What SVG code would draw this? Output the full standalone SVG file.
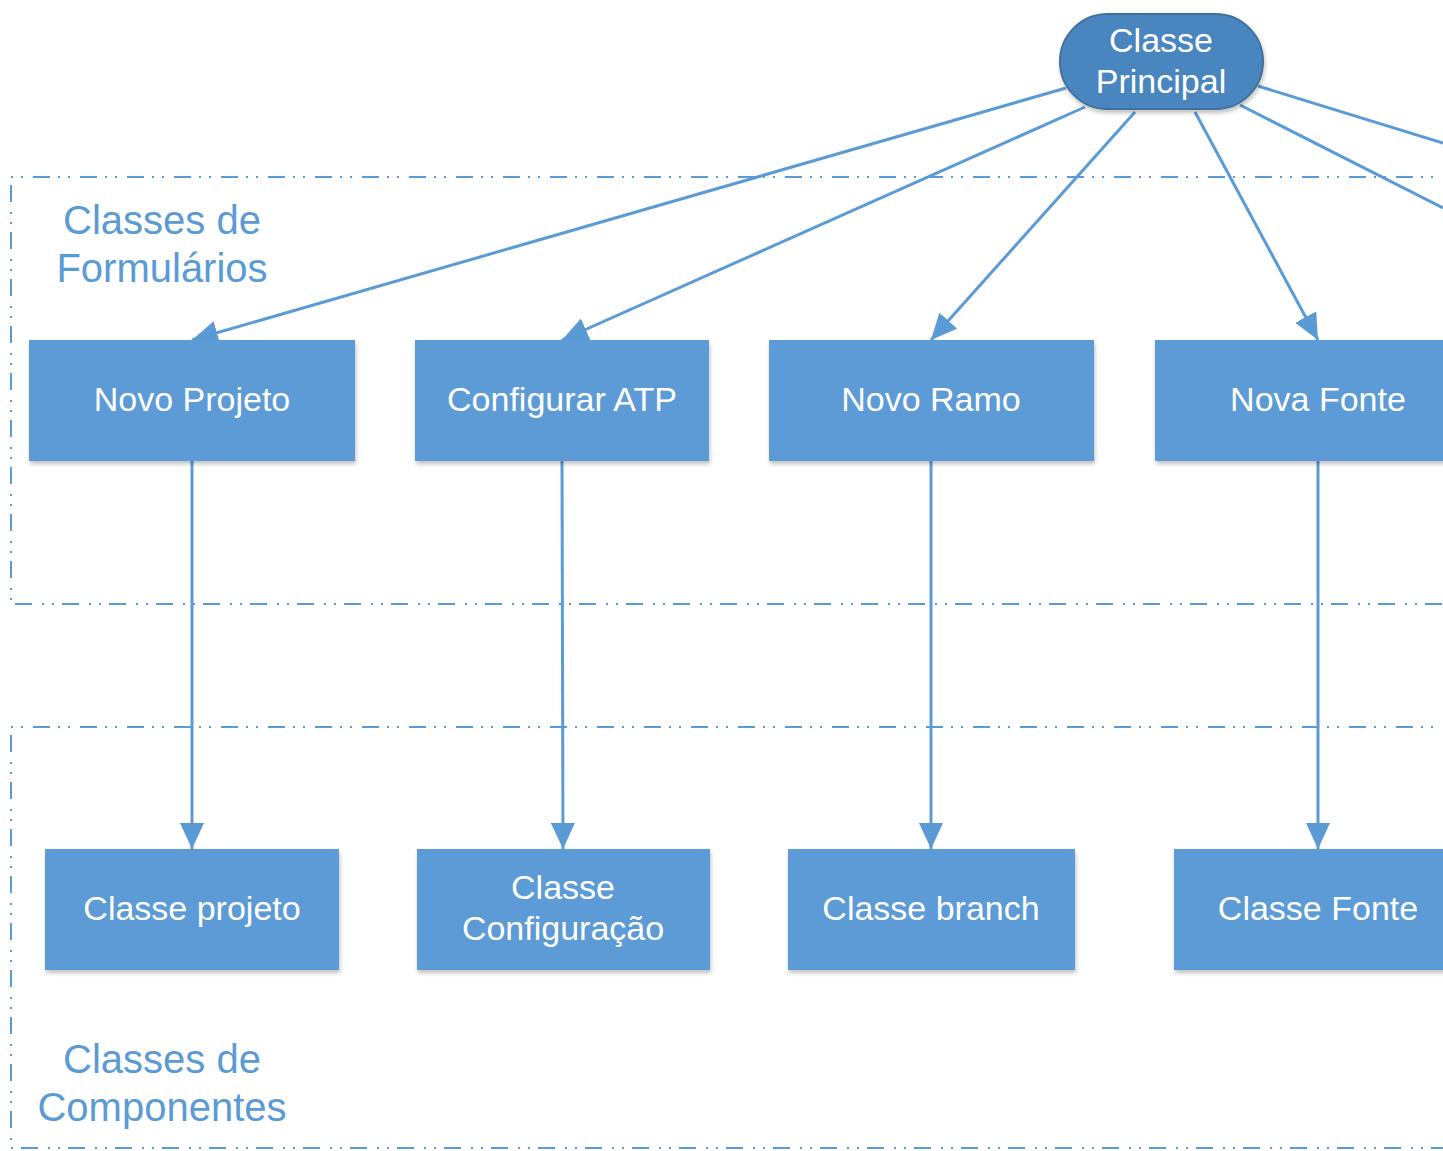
<svg xmlns="http://www.w3.org/2000/svg" width="1443" height="1151" viewBox="0 0 1443 1151">
<defs>
<style>
.box{fill:#5B9BD5;filter:url(#sh)}
.nt{font-family:"Liberation Sans",Arial,sans-serif;font-size:34px;fill:#FFFFFF;text-anchor:middle}
.lbl{font-family:"Liberation Sans",Arial,sans-serif;font-size:40px;fill:#5B9BD5;text-anchor:middle}
.grp{fill:none;stroke:#5B9BD5;stroke-width:2;stroke-dasharray:17 10 2 8 2 8}
.con{fill:none;stroke:#5B9BD5;stroke-width:3}
</style>
<filter id="sh" x="-5%" y="-5%" width="115%" height="120%">
<feGaussianBlur in="SourceAlpha" stdDeviation="2"/>
<feOffset dx="1" dy="3" result="b"/>
<feComponentTransfer><feFuncA type="linear" slope="0.25"/></feComponentTransfer>
<feMerge><feMergeNode/><feMergeNode in="SourceGraphic"/></feMerge>
</filter>
<marker id="ah" markerUnits="userSpaceOnUse" markerWidth="28" markerHeight="24" refX="26" refY="12" orient="auto">
<path d="M0,0 L26,12 L0,24 z" fill="#5B9BD5"/>
</marker>
</defs>
<rect width="1443" height="1151" fill="#FFFFFF"/>
<g id="groups">
<path class="grp" d="M1460,177 H11 V604 H1460"/>
<path class="grp" d="M1460,727 H11 V1148 H1460"/>
<text class="lbl" x="162" y="234">Classes de</text>
<text class="lbl" x="162" y="282">Formulários</text>
<text class="lbl" x="162" y="1073">Classes de</text>
<text class="lbl" x="162" y="1121">Componentes</text>
</g>
<g id="connectors">
<line class="con" x1="1066" y1="88" x2="192" y2="340" marker-end="url(#ah)"/>
<line class="con" x1="1085" y1="107" x2="562" y2="340" marker-end="url(#ah)"/>
<line class="con" x1="1135" y1="112" x2="931" y2="340" marker-end="url(#ah)"/>
<line class="con" x1="1195" y1="112" x2="1318" y2="340" marker-end="url(#ah)"/>
<line class="con" x1="1258" y1="86" x2="1443" y2="143"/>
<line class="con" x1="1240" y1="105" x2="1443" y2="208"/>
<line class="con" x1="192" y1="461" x2="192" y2="849" marker-end="url(#ah)"/>
<line class="con" x1="562" y1="461" x2="563" y2="849" marker-end="url(#ah)"/>
<line class="con" x1="931" y1="461" x2="931" y2="849" marker-end="url(#ah)"/>
<line class="con" x1="1318" y1="461" x2="1318" y2="849" marker-end="url(#ah)"/>
</g>
<g id="classe-principal">
<rect x="1060" y="14" width="203" height="95" rx="47.5" fill="#4A86C0" stroke="#41719C" stroke-width="2" filter="url(#sh)"/>
<text class="nt" x="1161" y="52">Classe</text>
<text class="nt" x="1161" y="93">Principal</text>
</g>
<g id="novo-projeto"><rect class="box" x="29" y="340" width="326" height="121"/><text class="nt" x="192" y="411">Novo Projeto</text></g>
<g id="configurar-atp"><rect class="box" x="415" y="340" width="294" height="121"/><text class="nt" x="562" y="411">Configurar ATP</text></g>
<g id="novo-ramo"><rect class="box" x="769" y="340" width="325" height="121"/><text class="nt" x="931" y="411">Novo Ramo</text></g>
<g id="nova-fonte"><rect class="box" x="1155" y="340" width="326" height="121"/><text class="nt" x="1318" y="411">Nova Fonte</text></g>
<g id="classe-projeto"><rect class="box" x="45" y="849" width="294" height="121"/><text class="nt" x="192" y="920">Classe projeto</text></g>
<g id="classe-configuracao"><rect class="box" x="417" y="849" width="293" height="121"/><text class="nt" x="563" y="899">Classe</text><text class="nt" x="563" y="940">Configuração</text></g>
<g id="classe-branch"><rect class="box" x="788" y="849" width="287" height="121"/><text class="nt" x="931" y="920">Classe branch</text></g>
<g id="classe-fonte"><rect class="box" x="1174" y="849" width="288" height="121"/><text class="nt" x="1318" y="920">Classe Fonte</text></g>
</svg>
